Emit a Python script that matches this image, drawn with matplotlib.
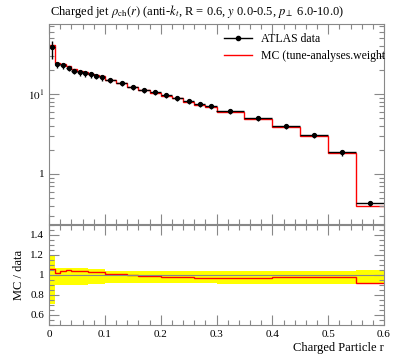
import numpy as np
import matplotlib
matplotlib.use('Agg')
from matplotlib import pyplot as plt
from matplotlib.lines import Line2D
from matplotlib.ticker import MultipleLocator, LogLocator, NullFormatter, FixedFormatter

plt.rcParams['font.family'] = ['Liberation Serif', 'DejaVu Serif']
plt.rcParams['mathtext.fontset'] = 'stix'

# bin edges in r
edges = [0.0, 0.01, 0.02, 0.03, 0.04, 0.05, 0.06, 0.07, 0.08, 0.09, 0.1,
         0.12, 0.14, 0.16, 0.18, 0.2, 0.22, 0.24, 0.26, 0.28, 0.3,
         0.35, 0.4, 0.45, 0.5, 0.55, 0.6]

# ATLAS data rho_ch(r)
data = [38.4, 23.7, 23.0, 21.3, 19.5, 18.7, 18.1, 17.6, 16.8, 16.2,
        15.0, 13.6, 12.3, 11.2, 10.5, 9.8, 9.0, 8.2, 7.5, 7.1,
        6.2, 5.06, 4.0, 3.07, 1.87, 0.434]

# MC prediction
mc = [40.7, 24.2, 23.9, 22.4, 20.3, 19.4, 18.8, 18.0, 17.2, 16.6,
      15.15, 13.7, 12.25, 11.1, 10.4, 9.55, 8.82, 8.04, 7.24, 6.85,
      5.98, 4.91, 3.9, 3.01, 1.83, 0.40]

# data uncertainty band in the ratio (lower / upper edge)
band_lo = [0.71, 0.90, 0.90, 0.90, 0.90, 0.90, 0.90, 0.905, 0.905, 0.905,
           0.92, 0.92, 0.92, 0.92, 0.92, 0.92, 0.92, 0.92, 0.92, 0.92,
           0.91, 0.91, 0.91, 0.91, 0.91, 0.915]
band_hi = [1.19, 1.065, 1.065, 1.065, 1.065, 1.065, 1.065, 1.06, 1.06, 1.06,
           1.04, 1.04, 1.04, 1.04, 1.04, 1.04, 1.04, 1.04, 1.04, 1.04,
           1.035, 1.035, 1.035, 1.035, 1.035, 1.045]

edges = np.array(edges)
data = np.array(data)
mc = np.array(mc)
centers = 0.5 * (edges[1:] + edges[:-1])
halfw = 0.5 * (edges[1:] - edges[:-1])
err_lo = data * (1 - np.array(band_lo))
err_hi = data * (np.array(band_hi) - 1)

fig = plt.figure(figsize=(3.97, 3.58), dpi=100)
W, H = 397.0, 358.0
ax = fig.add_axes([49 / W, 1 - 224 / H, 335 / W, 200 / H])
axr = fig.add_axes([49 / W, 1 - 325 / H, 335 / W, 100.5 / H])

tickcol = '#888888'
for a in (ax, axr):
    for s in a.spines.values():
        s.set_color(tickcol)
        s.set_linewidth(0.8)
    a.tick_params(which='both', direction='in', top=True, right=True,
                  color=tickcol, labelsize=8, width=0.8)
    a.tick_params(which='major', length=7)
    a.tick_params(which='minor', length=3.5)
    a.set_xlim(0, 0.6)
    a.xaxis.set_major_locator(MultipleLocator(0.1))
    a.xaxis.set_minor_locator(MultipleLocator(0.02))

# main panel
ax.set_yscale('log')
ax.set_ylim(0.237, 75)
ax.set_yticks([1, 10])
ax.yaxis.set_major_formatter(FixedFormatter(['1', r'$10^{1}$']))
ax.yaxis.set_minor_locator(LogLocator(base=10, subs=np.arange(2, 10), numticks=10))
ax.yaxis.set_minor_formatter(NullFormatter())
ax.set_xticklabels([])

ax.stairs(mc, edges, baseline=None, color='red', linewidth=1.0)
ax.errorbar(centers, data, xerr=halfw, yerr=[err_lo, err_hi], fmt='o',
            color='black', ms=2.8, elinewidth=1.0, capsize=0)

handles = [Line2D([], [], color='black', marker='o', ms=3, lw=1.0),
           Line2D([], [], color='red', lw=1.0)]
labels = ['ATLAS data', 'MC (tune-analyses.weight']
ax.legend(handles, labels, loc='upper left', bbox_to_anchor=(0.5, 0.99),
          frameon=False, fontsize=8.5, handlelength=2.4, borderaxespad=0.2,
          labelspacing=0.4)

fig.text(50 / W, 1 - 12 / H,
         r'Charged jet $\rho_{\mathrm{ch}}(r)$ (anti-$k_t$, R = 0.6, $y$ 0.0-0.5, $p_\perp$ 6.0-10.0)',
         fontsize=9, ha='left', va='center')

# ratio panel
ratio = mc / data
axr.stairs(band_hi, edges, baseline=band_lo, fill=True, color='#ffff00', linewidth=0)
axr.axhline(1.0, color=tickcol, linewidth=0.8)
axr.stairs(ratio, edges, baseline=None, color='red', linewidth=1.0)
axr.set_ylim(0.5, 1.5)
axr.yaxis.set_minor_locator(MultipleLocator(0.05))
axr.set_yticks([0.6, 0.8, 1.0, 1.2, 1.4])
axr.set_yticklabels(['0.6', '0.8', '1', '1.2', '1.4'])
axr.set_xticks([0, 0.1, 0.2, 0.3, 0.4, 0.5, 0.6])
axr.set_xticklabels(['0', '0.1', '0.2', '0.3', '0.4', '0.5', '0.6'])
axr.set_ylabel('MC / data', fontsize=9, labelpad=4)
axr.set_xlabel('Charged Particle r', fontsize=9, loc='right', labelpad=2)

fig.savefig('out.png', dpi=100)
